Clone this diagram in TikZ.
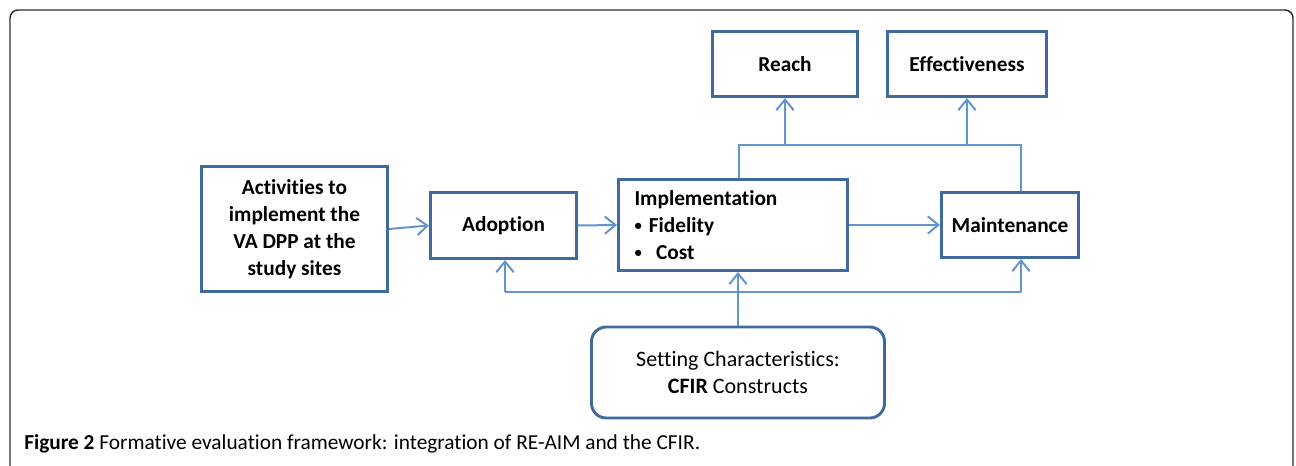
\documentclass[tikz,border=0pt]{standalone}
\usepackage{fontspec}
\setmainfont[Ligatures=NoCommon]{Carlito}
\usetikzlibrary{arrows.meta}

\definecolor{boxblue}{RGB}{62,106,158}
\definecolor{lineblue}{RGB}{98,148,208}
\definecolor{framegray}{RGB}{45,45,45}

\newcommand{\smallbullet}{\raisebox{1.5pt}{\fontsize{11}{11}\selectfont\textbullet}}

\tikzset{
  box/.style={draw=boxblue, line width=2.2pt, fill=white, align=center,
    font=\fontsize{16}{20.25}\selectfont\bfseries, inner sep=2pt},
  line/.style={draw=lineblue, line width=1.5pt},
  link/.style={line, -{Straight Barb[length=8pt,width=13pt,line width=1.5pt]}}
}

\begin{document}
\begin{tikzpicture}[x=0.75pt,y=0.75pt]
\useasboundingbox (0,0) rectangle (1296,466);
\draw [framegray, line width=1.1pt, rounded corners=6pt]
  (10,0) |- (1293,456) -- (1293,0);

\node (act) [box, minimum width=139.5pt, minimum height=93.75pt] at (294.5,237)
  {Activities to\\implement the\\VA DPP at the\\study sites};
\node (adopt) [box, minimum width=109.5pt, minimum height=49.5pt] at (503.5,240.5) {Adoption};
\node (impl) [box, minimum height=68.25pt, text width=147.75pt, inner xsep=12pt,
  align=left] at (733,241)
  {Implementation\\\smallbullet\ Fidelity\\\smallbullet\ \ Cost};
\node (maint) [box, minimum width=102.75pt, minimum height=48.75pt] at (1010,241) {Maintenance};
\node (reach) [box, minimum width=108.75pt, minimum height=48.75pt] at (785,402) {Reach};
\node (eff) [box, minimum width=119.25pt, minimum height=48.75pt] at (967,402) {Effectiveness};
\node (set) [box, rounded corners=11pt, minimum width=219.75pt, minimum height=68.25pt,
  font=\fontsize{16.5}{20.25}\selectfont] at (738,93.5)
  {Setting Characteristics:\\\textbf{CFIR} Constructs};

% main chain
\draw [link] (act.east) -- (adopt.west);
\draw [link] (adopt.east) -- (impl.west);
\draw [link] (impl.east) -- (maint.west);

% upper branch
\coordinate (t1) at (739,321);
\coordinate (t2) at (1021,321);
\draw [line] (impl.north -| t1) -- (t1) -- (t2) -- (maint.north -| t2);
\draw [link] (reach.south |- t1) -- (reach.south);
\draw [link] (eff.south |- t1) -- (eff.south);

% lower branch
\coordinate (b1) at (505,174);
\coordinate (b2) at (1021,174);
\draw [line] (b1) -- (b2);
\draw [link] (b1) -- (adopt.south -| b1);
\draw [link] (b2) -- (maint.south -| b2);
\draw [link] (set.north) -- (impl.south -| set.north);

\node (cap) [anchor=base west, inner sep=0pt, font=\fontsize{16}{18}\selectfont] at (24,16)
  {\textbf{Figure 2} Formative evaluation framework: integration of RE-AIM and the CFIR.};
\end{tikzpicture}
\end{document}
